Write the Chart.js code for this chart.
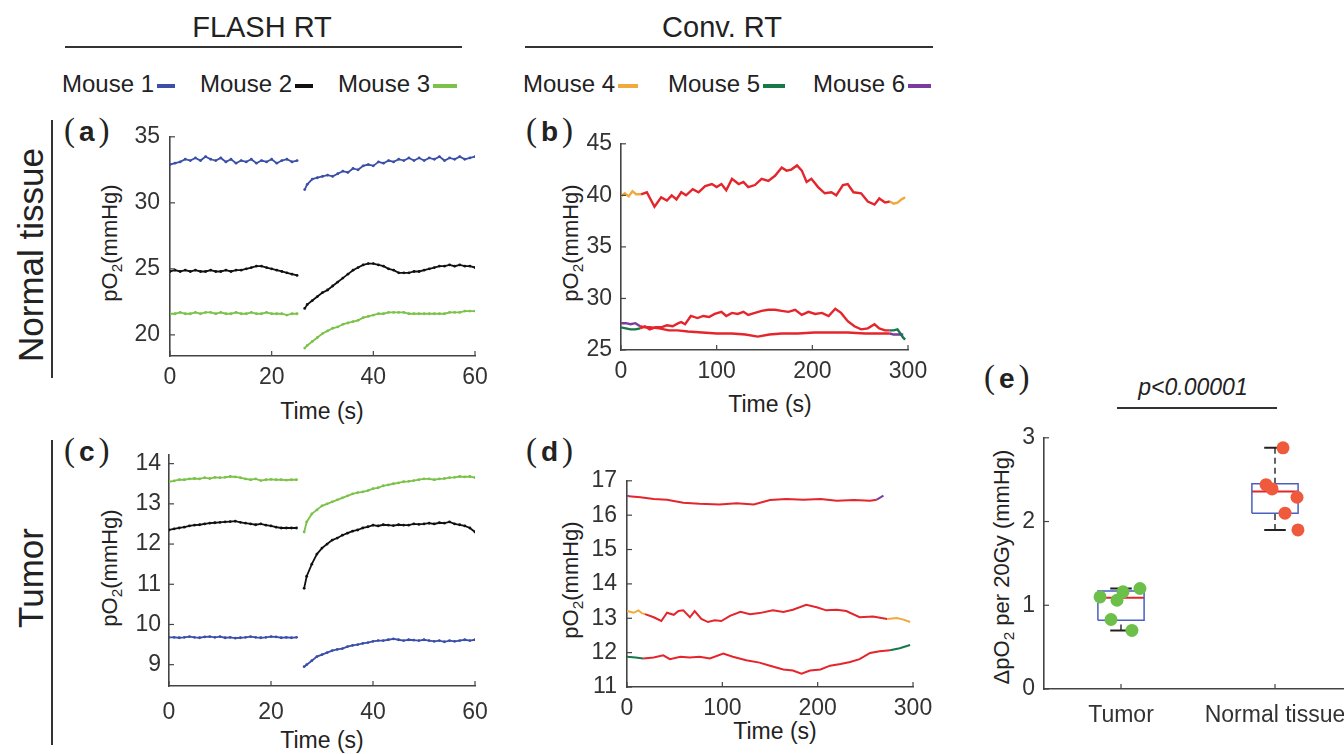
<!DOCTYPE html>
<html>
<head>
<meta charset="utf-8">
<script src="https://cdn.jsdelivr.net/npm/chart.js@4.4.1/dist/chart.umd.min.js"></script>
<style>
  html, body { margin: 0; padding: 0; background: #fff; }
  body { width: 1344px; height: 754px; position: relative; overflow: hidden;
         font-family: "Liberation Sans", Arial, sans-serif; color: #222; }
  .abs { position: absolute; white-space: nowrap; line-height: 1; }
  canvas { position: absolute; }
  .hdr { font-size: 29px; transform: translate(-50%, -50%); }
  .rule { position: absolute; height: 2px; background: #333; }
  .vrule { position: absolute; width: 2px; background: #333; }
  .leg { font-size: 24px; transform: translateY(-50%); }
  .leg i { display: inline-block; width: 18px; height: 4px; margin-left: 3px; vertical-align: middle; }
  .row { font-size: 35px; transform: translate(-50%, -50%) rotate(-90deg); }
  .ytitle { font-size: 22px; transform: translate(-50%, -50%) rotate(-90deg); }
  .xtitle { font-size: 23px; transform: translate(-50%, -50%); }
  .pl { font-family: "Liberation Serif", serif; font-size: 33px; transform: translateY(-50%); }
  .pl b { font-family: "Liberation Sans", Arial, sans-serif; font-size: 28px; padding: 0 4px; }
  .pval { font-size: 23px; font-style: italic; transform: translate(-50%, -50%); }
  sub { font-size: 0.7em; vertical-align: -0.3em; line-height: 0; }
</style>
</head>
<body>

<div class="abs hdr" style="left:262px; top:27px">FLASH RT</div>
<div class="abs hdr" style="left:722px; top:27px">Conv. RT</div>
<div class="rule" style="left:65px; top:46px; width:397px"></div>
<div class="rule" style="left:525px; top:46px; width:408px"></div>

<div class="abs leg" style="left:62px; top:84px">Mouse 1<i style="background:#3b4fa8"></i></div>
<div class="abs leg" style="left:200px; top:84px">Mouse 2<i style="background:#111"></i></div>
<div class="abs leg" style="left:338px; top:84px">Mouse 3<i style="background:#7cc24a; width:24px"></i></div>
<div class="abs leg" style="left:523px; top:84px">Mouse 4<i style="background:#f2a93b; width:20px"></i></div>
<div class="abs leg" style="left:668px; top:84px">Mouse 5<i style="background:#17784a; width:22px"></i></div>
<div class="abs leg" style="left:813px; top:84px">Mouse 6<i style="background:#7a3c9e; width:23px"></i></div>

<div class="abs row" style="left:30px; top:255px">Normal tissue</div>
<div class="vrule" style="left:51px; top:120px; height:258px"></div>
<div class="abs row" style="left:30px; top:578px">Tumor</div>
<div class="vrule" style="left:51px; top:440px; height:305px"></div>

<div class="abs pl" style="left:64px; top:130px">(<b>a</b>)</div>
<div class="abs pl" style="left:526px; top:130px">(<b>b</b>)</div>
<div class="abs pl" style="left:64px; top:450px">(<b>c</b>)</div>
<div class="abs pl" style="left:526px; top:450px">(<b>d</b>)</div>
<div class="abs pl" style="left:984px; top:377px">(<b>e</b>)</div>

<div class="abs ytitle" style="left:110px; top:243px">pO<sub>2</sub>(mmHg)</div>
<div class="abs ytitle" style="left:571px; top:243px">pO<sub>2</sub>(mmHg)</div>
<div class="abs ytitle" style="left:110px; top:568px">pO<sub>2</sub>(mmHg)</div>
<div class="abs ytitle" style="left:571px; top:580px">pO<sub>2</sub>(mmHg)</div>
<div class="abs ytitle" style="left:1002px; top:567px">&Delta;pO<sub>2</sub> per 20Gy (mmHg)</div>

<div class="abs xtitle" style="left:322px; top:411px">Time (s)</div>
<div class="abs xtitle" style="left:770px; top:404px">Time (s)</div>
<div class="abs xtitle" style="left:322px; top:740px">Time (s)</div>
<div class="abs xtitle" style="left:775px; top:731px">Time (s)</div>

<div class="abs pval" style="left:1193px; top:387px">p&lt;0.00001</div>
<div class="rule" style="left:1117px; top:407px; width:160px"></div>

<canvas id="chartA"></canvas>
<canvas id="chartB"></canvas>
<canvas id="chartC"></canvas>
<canvas id="chartD"></canvas>
<canvas id="chartE"></canvas>

<script>
// ---- data -------------------------------------------------------------

// FLASH panels: before (0-25 s) and after (26.5-60 s) the pulse
const tPre  = [0,1,2,3,4,5,6,7,8,9,10,11,12,13,14,15,16,17,18,19,20,21,22,23,24,25];
const tPost = [26.5,27,28,29,30,31,32,33,34,35,36,37,38,39,40,41,42,43,44,45,46,47,48,49,50,51,52,53,54,55,56,57,58,59,60];

// (a) normal tissue, FLASH
const m1PreA  = [32.9,33.0,33.1,33.3,33.2,33.4,33.2,33.5,33.3,33.2,33.4,33.1,33.3,33.0,33.2,33.1,33.3,33.0,33.2,33.1,33.3,33.0,33.2,33.3,33.1,33.2];
const m1PostA = [31.0,31.4,31.8,31.9,32.0,32.1,32.0,32.2,32.4,32.3,32.6,32.5,32.8,32.9,32.8,33.1,33.0,33.2,33.1,33.3,33.2,33.4,33.2,33.4,33.2,33.4,33.3,33.5,33.2,33.4,33.3,33.5,33.3,33.4,33.5];
const m2PreA  = [24.8,24.9,24.8,24.9,24.8,24.9,24.8,24.8,24.9,24.8,24.8,24.9,24.8,24.9,24.9,25.0,25.1,25.2,25.2,25.1,25.0,24.9,24.8,24.7,24.6,24.5];
const m2PostA = [22.0,22.3,22.6,22.9,23.2,23.4,23.7,24.0,24.3,24.6,24.9,25.1,25.3,25.4,25.4,25.3,25.2,25.0,24.9,24.7,24.7,24.7,24.8,24.8,24.9,25.0,25.1,25.2,25.2,25.3,25.2,25.3,25.2,25.2,25.1];
const m3PreA  = [21.6,21.6,21.7,21.6,21.6,21.7,21.6,21.7,21.7,21.6,21.7,21.6,21.6,21.7,21.6,21.6,21.7,21.6,21.6,21.7,21.6,21.6,21.6,21.5,21.6,21.6];
const m3PostA = [19.0,19.2,19.5,19.8,20.1,20.3,20.5,20.6,20.8,20.9,21.0,21.1,21.3,21.4,21.5,21.6,21.6,21.7,21.7,21.7,21.7,21.6,21.6,21.6,21.6,21.6,21.6,21.6,21.6,21.7,21.7,21.7,21.8,21.8,21.8];

// (c) tumor, FLASH
const m1PreC  = [9.68,9.68,9.67,9.68,9.70,9.68,9.67,9.69,9.70,9.68,9.70,9.67,9.68,9.66,9.67,9.68,9.70,9.68,9.67,9.68,9.70,9.69,9.67,9.68,9.67,9.68];
const m1PostC = [8.95,9.00,9.10,9.20,9.25,9.30,9.35,9.38,9.40,9.45,9.48,9.50,9.53,9.55,9.58,9.60,9.60,9.62,9.64,9.62,9.60,9.62,9.61,9.60,9.62,9.60,9.58,9.60,9.57,9.60,9.58,9.60,9.62,9.60,9.62];
const m2PreC  = [12.35,12.38,12.40,12.42,12.45,12.47,12.48,12.50,12.52,12.53,12.54,12.55,12.56,12.57,12.54,12.52,12.50,12.48,12.50,12.47,12.45,12.42,12.40,12.40,12.40,12.40];
const m2PostC = [10.90,11.20,11.50,11.75,11.90,12.00,12.10,12.15,12.22,12.27,12.32,12.35,12.40,12.43,12.47,12.45,12.48,12.47,12.46,12.48,12.47,12.47,12.50,12.49,12.50,12.52,12.50,12.53,12.52,12.55,12.50,12.48,12.45,12.40,12.30];
const m3PreC  = [13.55,13.57,13.60,13.60,13.62,13.63,13.62,13.65,13.63,13.66,13.65,13.66,13.68,13.67,13.65,13.62,13.60,13.62,13.58,13.60,13.61,13.60,13.60,13.59,13.60,13.60];
const m3PostC = [12.30,12.55,12.75,12.85,12.95,13.00,13.05,13.10,13.15,13.20,13.25,13.28,13.30,13.33,13.38,13.40,13.45,13.47,13.50,13.52,13.55,13.56,13.58,13.60,13.62,13.62,13.60,13.62,13.63,13.65,13.66,13.68,13.67,13.68,13.65];

// (b) normal tissue, conventional; red part = during irradiation
const tB4 = [0,4,8,12,16,21,27,35,42,48,53,58,63,68,75,81,88,95,100,105,110,116,123,128,133,140,147,154,161,168,173,178,184,189,194,199,206,213,220,225,232,237,243,251,258,265,270,276,281,285,289,293,297];
const vB4 = [39.9,40.2,39.9,40.4,40.1,40.1,40.3,38.9,39.8,39.5,40.0,39.6,40.3,40.0,40.6,40.3,40.9,41.1,40.8,41.1,40.5,41.6,41.1,41.3,40.8,41.0,41.6,41.4,41.9,42.7,42.4,42.5,42.9,42.4,41.3,41.6,40.8,40.2,40.3,40.0,41.0,41.1,40.3,40.2,39.4,39.1,39.7,39.3,39.4,39.2,39.3,39.6,39.8];
const tB5 = [0,5,10,15,20,25,30,36,42,48,54,60,63,67,73,80,86,92,98,105,110,116,122,128,133,140,147,154,161,168,175,182,189,196,203,210,217,224,230,237,244,251,258,265,270,276,281,285,289,292,295,297];
const vB5 = [27.2,27.1,27.0,27.0,27.1,27.3,27.0,27.2,27.2,27.4,27.3,27.6,27.7,27.5,28.3,28.1,28.3,28.2,28.5,28.7,28.3,28.6,28.5,28.7,28.4,28.6,28.8,28.9,28.9,28.8,28.7,28.9,28.4,28.7,28.5,28.6,28.3,29.0,28.6,27.8,27.3,27.0,27.1,27.5,27.1,26.9,26.9,26.9,27.0,26.6,26.2,26.0];
const tB6 = [0,5,10,15,20,25,30,40,50,59,70,85,100,116,130,143,155,168,185,202,220,237,255,272,281,285,290,295];
const vB6 = [27.6,27.6,27.5,27.6,27.3,27.2,27.2,27.1,26.9,26.9,26.8,26.7,26.6,26.6,26.5,26.3,26.5,26.6,26.6,26.7,26.7,26.7,26.6,26.6,26.6,26.5,26.5,26.5];
const irrB4 = [21, 281], irrB5 = [20, 281], irrB6 = [20, 281];

// (d) tumor, conventional
const tD4 = [0,7,12,16,19,28,36,42,49,54,59,66,71,78,85,92,99,108,119,129,139,153,164,174,188,199,209,220,230,244,258,273,283,290,297];
const vD4 = [13.21,13.16,13.23,13.14,13.12,13.03,12.92,13.16,13.10,13.21,13.23,13.03,13.21,12.98,12.89,12.94,12.92,13.07,13.19,13.12,13.15,13.23,13.18,13.25,13.39,13.32,13.23,13.25,13.21,13.03,13.05,12.98,13.01,12.96,12.89];
const tD5 = [0,9,17,28,38,45,56,66,76,87,101,111,125,139,150,164,174,183,192,203,213,224,234,244,255,265,276,286,297];
const vD5 = [11.88,11.86,11.83,11.86,11.92,11.81,11.88,11.86,11.88,11.83,11.97,11.88,11.78,11.71,11.62,11.51,11.48,11.39,11.48,11.51,11.62,11.67,11.73,11.81,11.99,12.04,12.07,12.13,12.22];
const tD6 = [0,2,14,28,42,59,76,97,115,133,150,167,185,203,220,238,255,262,269];
const vD6 = [16.57,16.55,16.52,16.47,16.45,16.36,16.33,16.31,16.35,16.31,16.44,16.47,16.45,16.47,16.42,16.44,16.42,16.45,16.57];
const irrD4 = [19, 273], irrD5 = [17, 276], irrD6 = [2, 262];

// (e) change in pO2 per 20 Gy
const groups     = ["Tumor", "Normal tissue"];
const tumorVals  = [1.10, 1.06, 1.16, 1.20, 0.83, 0.70];
const tumorJit   = [-0.136, -0.026, 0.013, 0.123, -0.065, 0.071];
const normalVals = [2.88, 2.44, 2.39, 2.29, 2.10, 1.90];
const normalJit  = [0.052, -0.058, -0.019, 0.143, 0.065, 0.149];
const tumorBox   = [0.70, 0.82, 1.09, 1.17, 1.20];   // low whisker, q1, median, q3, high whisker
const normalBox  = [1.90, 2.10, 2.36, 2.45, 2.88];

// tick labels
const ticksXFlash = [0, 20, 40, 60];
const ticksXConv  = [0, 100, 200, 300];
const ticksYA = [20, 25, 30, 35];
const ticksYB = [25, 30, 35, 40, 45];
const ticksYC = [9, 10, 11, 12, 13, 14];
const ticksYD = [11, 12, 13, 14, 15, 16, 17];
const ticksYE = [0, 1, 2, 3];

// ---- styling ---------------------------------------------------------

const RED = "#e4252b";
const AXIS = "#444";
const C1 = "#3b4fa8", C2 = "#111111", C3 = "#7cc24a";
const C4 = "#f2a93b", C5 = "#17784a", C6 = "#7a3c9e";
const TICKFONT = { family: "Liberation Sans", size: 23 };

const inTicks = {
  id: "inTicks",
  afterDraw(chart) {
    const { ctx, chartArea: a, scales } = chart;
    ctx.save();
    ctx.strokeStyle = AXIS;
    ctx.lineWidth = 1.2;
    scales.x.ticks.forEach(t => {
      const p = scales.x.getPixelForValue(t.value);
      ctx.beginPath(); ctx.moveTo(p, a.bottom); ctx.lineTo(p, a.bottom - 5); ctx.stroke();
    });
    scales.y.ticks.forEach(t => {
      const p = scales.y.getPixelForValue(t.value);
      ctx.beginPath(); ctx.moveTo(a.left, p); ctx.lineTo(a.left + 5, p); ctx.stroke();
    });
    ctx.restore();
  }
};

const pts = (t, v) => t.map((x, i) => ({ x, y: v[i] }));

function dotted(t, v, color) {
  return { data: pts(t, v), borderColor: color, backgroundColor: color, borderWidth: 1.8,
           pointRadius: 1.4, pointBorderWidth: 0, tension: 0 };
}

function trace(t, v, color, irr, width) {
  return {
    data: pts(t, v), borderColor: color, borderWidth: width, pointRadius: 0, tension: 0,
    segment: { borderColor: c => (c.p0.parsed.x >= irr[0] && c.p1.parsed.x <= irr[1]) ? RED : color }
  };
}

function axis(min, max, ticks, pad, extra) {
  return Object.assign({
    type: "linear", min, max,
    afterBuildTicks: s => { s.ticks = ticks.map(value => ({ value })); },
    grid: { display: false, drawTicks: false },
    border: { display: true, color: AXIS, width: 1.6 },
    ticks: { font: TICKFONT, color: "#333", padding: pad, autoSkip: false, maxRotation: 0 }
  }, extra || {});
}

function panel(id, area, xs, ys, datasets) {
  const YW = 60, PT = 16, PR = 30, XH = 44;
  const cv = document.getElementById(id);
  cv.width = area.w + YW + PR;
  cv.height = area.h + PT + XH;
  cv.style.left = (area.l - YW) + "px";
  cv.style.top = (area.t - PT) + "px";
  xs.afterFit = s => { s.height = XH; };
  ys.afterFit = s => { s.width = YW; };
  return new Chart(cv, {
    type: "line",
    data: { datasets },
    options: {
      responsive: false, animation: false, events: [],
      layout: { padding: { top: PT, right: PR, left: 0, bottom: 0 } },
      plugins: { legend: { display: false }, tooltip: { enabled: false } },
      scales: { x: xs, y: ys }
    },
    plugins: [inTicks]
  });
}

// ---- panels ----------------------------------------------------------

panel("chartA", { l: 170, t: 129, w: 305, h: 227 },
  axis(0, 60, ticksXFlash, 8), axis(18.4, 35, ticksYA, 10),
  [dotted(tPre, m1PreA, C1), dotted(tPost, m1PostA, C1),
   dotted(tPre, m2PreA, C2), dotted(tPost, m2PostA, C2),
   dotted(tPre, m3PreA, C3), dotted(tPost, m3PostA, C3)]);

panel("chartB", { l: 621, t: 137, w: 287, h: 213 },
  axis(0, 300, ticksXConv, 8), axis(25, 45, ticksYB, 9),
  [trace(tB4, vB4, C4, irrB4, 2.4), trace(tB5, vB5, C5, irrB5, 2.4), trace(tB6, vB6, C6, irrB6, 2.4)]);

panel("chartC", { l: 169, t: 449, w: 306, h: 237 },
  axis(0, 60, ticksXFlash, 13), axis(8.47, 14.22, ticksYC, 8),
  [dotted(tPre, m1PreC, C1), dotted(tPost, m1PostC, C1),
   dotted(tPre, m2PreC, C2), dotted(tPost, m2PostC, C2),
   dotted(tPre, m3PreC, C3), dotted(tPost, m3PostC, C3)]);

panel("chartD", { l: 627, t: 473, w: 286, h: 214 },
  axis(0, 300, ticksXConv, 8), axis(11, 17, ticksYD, 10),
  [trace(tD4, vD4, C4, irrD4, 2), trace(tD5, vD5, C5, irrD5, 2), trace(tD6, vD6, C6, irrD6, 2)]);

// box plot pieces for one group centred at cx
function boxSets(cx, b) {
  const w = 0.15, cap = 0.07;
  const line = (data, color, width, dash) => ({ data, borderColor: color, borderWidth: width,
    borderDash: dash || [], pointRadius: 0, tension: 0, order: 2 });
  return [
    line([{ x: cx - w, y: b[1] }, { x: cx + w, y: b[1] }, { x: cx + w, y: b[3] },
          { x: cx - w, y: b[3] }, { x: cx - w, y: b[1] }], "#4a5fc1", 1.5),
    line([{ x: cx - w, y: b[2] }, { x: cx + w, y: b[2] }], RED, 2),
    line([{ x: cx, y: b[3] }, { x: cx, y: b[4] }], "#222", 1.4, [6, 4]),
    line([{ x: cx, y: b[0] }, { x: cx, y: b[1] }], "#222", 1.4, [6, 4]),
    line([{ x: cx - cap, y: b[4] }, { x: cx + cap, y: b[4] }], "#222", 2),
    line([{ x: cx - cap, y: b[0] }, { x: cx + cap, y: b[0] }], "#222", 2)
  ];
}

function dots(cx, vals, jit, color) {
  return { data: vals.map((y, i) => ({ x: cx + jit[i], y })), showLine: false,
           pointRadius: 6.5, pointBackgroundColor: color, pointBorderWidth: 0, order: 1 };
}

panel("chartE", { l: 1044, t: 431, w: 308, h: 258 },
  axis(0.5, 2.5, [1, 2], 13, { ticks: { font: TICKFONT, color: "#333", padding: 13,
    autoSkip: false, maxRotation: 0, callback: v => groups[v - 1] } }),
  axis(0, 3, ticksYE, 9),
  [dots(1, tumorVals, tumorJit, "#6cc04a"), dots(2, normalVals, normalJit, "#f05a3c"),
   ...boxSets(1, tumorBox), ...boxSets(2, normalBox)]);
</script>
</body>
</html>
